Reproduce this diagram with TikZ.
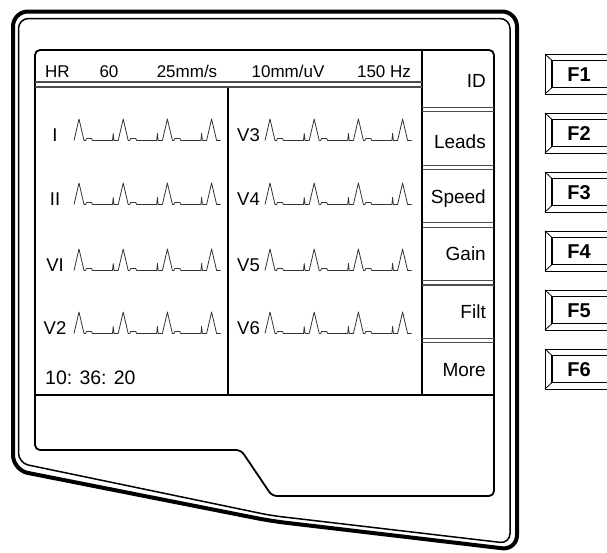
\documentclass[tikz,border=0pt]{standalone}
\usepackage{fontspec}
\setmainfont{Liberation Sans}
\tikzset{
	ecgline/.style={draw=black!80, line width=0.8pt, line join=round},
	ecgtrace/.pic={
			\draw[ecgline] (0,0)
			\foreach \k in {1,2,3} {
					-- ++(5,-21.5) -- ++(5,21.5) -- ++(1.5,0) -- ++(1,-2) -- ++(5,0) -- ++(1,2)
					-- ++(20,0) -- ++(0.7,-7) -- ++(0.8,7) -- ++(4.2,0)
				}
			-- ++(5,-21.5) -- ++(5,21.5) -- ++(4,0);
		}
}

\begin{document}
\begin{tikzpicture}[
    x=1pt, y=-1pt,
    hdr/.style={font=\fontsize{17}{20}\selectfont, inner sep=0pt, anchor=base},
    lead/.style={font=\fontsize{18.5}{22}\selectfont, inner sep=0pt, anchor=base},
    softkey/.style={font=\fontsize{19}{22}\selectfont, inner sep=0pt, anchor=base east},
    fkey/.style={font=\bfseries\fontsize{20}{24}\selectfont, inner sep=0pt, anchor=base},
    keysep/.style={draw=black!70, line width=1.1pt},
    ]
    \useasboundingbox (0,0) rectangle (607,552);

    % casing, double outline
    \draw[line width=4pt, rounded corners=15pt] (13,11.5) -- (517,11.5) -- (517,550) -- (271,521) -- (13,470) -- cycle;
    \draw[line width=1.5pt, rounded corners=10pt] (18.5,18.5) -- (510,18.5) -- (510,543.5) -- (271,515.5) -- (18.5,463) -- cycle;

    % screen
    \draw[line width=1.8pt, rounded corners=5pt] (35,50) -- (494,50) -- (494,496) -- (272,496) -- (241,450) -- (35,450) -- cycle;
    \draw[line width=1.5pt] (35,395) -- (494,395);
    \draw[line width=1.3pt] (422,50) -- (422,395);
    \draw[line width=1.1pt] (228,87) -- (228,395);
    \draw[keysep] (35,82) -- (422,82) (35,87) -- (422,87);
    \foreach \y in {109.5,167.25,225,282.75,340.5}
      \draw[keysep] (422,\y-2.2) -- (494,\y-2.2) (422,\y+2.2) -- (494,\y+2.2);

    % header
    \node[hdr, anchor=base west] (hr) at (45,77) {HR};
    \node[hdr] (rate) at (109,77) {60};
    \node[hdr] (speed) at (187,77) {25mm/s};
    \node[hdr] (gain) at (288,77) {10mm/uV};
    \node[hdr] (filter) at (384,77) {150 Hz};

    % leads
    \node[lead] (lI) at (55,141.5) {I};
    \node[lead] (lII) at (55,205.5) {II};
    \node[lead] (lVI) at (55,271.5) {VI};
    \node[lead] (lV2) at (55,334.5) {V2};
    \node[lead] (lV3) at (248.5,141.5) {V3};
    \node[lead] (lV4) at (248.5,205.5) {V4};
    \node[lead] (lV5) at (248.5,271.5) {V5};
    \node[lead] (lV6) at (248.5,334.5) {V6};
    \pic (tI) at (74,140.5) {ecgtrace};
    \pic (tII) at (74,204.5) {ecgtrace};
    \pic (tVI) at (74,270.5) {ecgtrace};
    \pic (tV2) at (74,333.5) {ecgtrace};
    \pic (tV3) at (265,140.5) {ecgtrace};
    \pic (tV4) at (265,204.5) {ecgtrace};
    \pic (tV5) at (265,270.5) {ecgtrace};
    \pic (tV6) at (265,333.5) {ecgtrace};
    \node[lead, anchor=base west, font=\fontsize{19.5}{22}\selectfont] (clock) at (45,384) {10: 36: 20};

    % soft keys
    \node[softkey] (kid) at (486,87) {ID};
    \node[softkey] (kleads) at (486,148) {Leads};
    \node[softkey] (kspeed) at (486,203.5) {Speed};
    \node[softkey] (kgain) at (486,260) {Gain};
    \node[softkey] (kfilt) at (486,318) {Filt};
    \node[softkey] (kmore) at (486,376) {More};

    % function keys
    \begin{scope}
      \clip (530,40) rectangle (607,400);
      \foreach \n/\y in {1/74,2/133,3/192,4/251,5/310,6/369} {
        \draw[line width=1pt] (545,\y-20) rectangle (625,\y+20);
        \draw[line width=1.4pt] (552,\y-13.5) rectangle (620,\y+13.5);
        \draw[line width=0.8pt] (545,\y-20) -- (552,\y-13.5) (545,\y+20) -- (552,\y+13.5);
        \node[fkey] (f\n) at (579,\y+7.2) {F\n};
      }
    \end{scope}
\end{tikzpicture}
\end{document}
